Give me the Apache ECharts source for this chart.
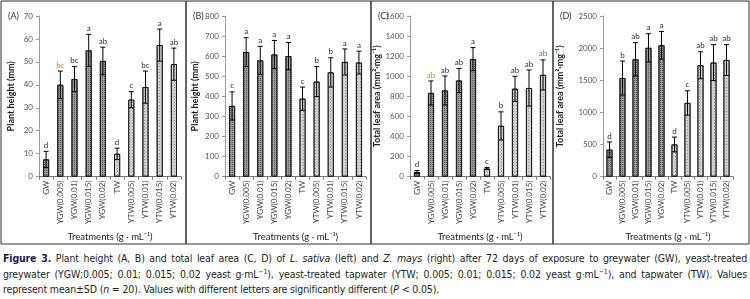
<!DOCTYPE html>
<html>
<head>
<meta charset="utf-8">
<script src="https://cdn.jsdelivr.net/npm/echarts@6/dist/echarts.min.js"></script>
<style>
  body { margin: 0; background: #fff; }
  #wrap { position: relative; width: 750px; height: 299px; overflow: hidden; }
  #chart { position: absolute; left: 0; top: 0; width: 750px; height: 247px; }
  #caption {
    position: absolute; left: 3px; top: 251px; width: 744px;
    font-family: "DejaVu Sans Condensed", "Liberation Sans", sans-serif;
    font-size: 10.5px; line-height: 15.5px; color: #231f20; letter-spacing: -0.15px;
  }
  #caption span { display: block; text-align: justify; text-align-last: justify; white-space: nowrap; }
  #caption span.last { text-align-last: left; }
  #caption b { color: #1d1d4b; }
  #caption sup { font-size: 7px; line-height: 0; }
</style>
</head>
<body>
<div id="wrap">
  <div id="chart"></div>
  <div id="caption">
    <span><b>Figure 3.</b> Plant height (A, B) and total leaf area (C, D) of <i>L. sativa</i> (left) and <i>Z. mays</i> (right) after 72 days of exposure to greywater (GW), yeast-treated</span>
    <span>greywater (YGW;0.005; 0.01; 0.015; 0.02 yeast g·mL<sup>−1</sup>), yeast-treated tapwater (YTW; 0.005; 0.01; 0.015; 0.02 yeast g·mL<sup>−1</sup>), and tapwater (TW). Values</span>
    <span class="last">represent mean±SD (<i>n</i> = 20). Values with different letters are significantly different (<i>P</i> &lt; 0.05).</span>
  </div>
</div>
<script>
  // treatments on the x axis
  const categories = ['GW', 'YGW(0.005)', 'YGW(0.01)', 'YGW(0.015)', 'YGW(0.02)',
    'TW', 'YTW(0.005)', 'YTW(0.01)', 'YTW(0.015)', 'YTW(0.02)'];

  // (A) plant height, L. sativa
  const heightA = [7.5, 40, 42.5, 55, 50.4, 9.9, 33.5, 39, 57.3, 49];
  const errA = [3.5, 6, 5.5, 7, 6, 2.5, 3.5, 7, 7, 7];
  const lettersA = ['d', 'bc', 'bc', 'a', 'ab', 'd', 'c', 'bc', 'a', 'ab'];

  // (B) plant height, Z. mays
  const heightB = [352, 620, 579, 608, 600, 388, 473, 519, 571, 568];
  const errB = [70, 72, 70, 70, 68, 58, 75, 73, 65, 57];
  const lettersB = ['c', 'a', 'a', 'a', 'a', 'c', 'b', 'b', 'a', 'a'];

  // (C) total leaf area, L. sativa
  const areaC = [45, 833, 858, 957, 1170, 80, 505, 875, 882, 1013];
  const errC = [15, 120, 145, 120, 115, 10, 140, 125, 180, 150];
  const lettersC = ['d', 'ab', 'ab', 'ab', 'a', 'c', 'b', 'ab', 'ab', 'ab'];

  // (D) total leaf area, Z. mays
  const areaD = [419, 1534, 1825, 2004, 2045, 500, 1146, 1733, 1775, 1815];
  const errD = [120, 265, 260, 220, 215, 115, 190, 210, 280, 240];
  const lettersD = ['d', 'b', 'ab', 'a', 'a', 'd', 'c', 'ab', 'ab', 'ab'];

  const panels = [
    { tag: '(A)', values: heightA, err: errA, letters: lettersA, max: 70, interval: 10,
      name: 'Plant height (mm)', left: 39, width: 142, gap: 23, letterColor: { 1: '#c8843c' } },
    { tag: '(B)', values: heightB, err: errB, letters: lettersB, max: 800, interval: 100,
      name: 'Plant height (mm)', left: 225, width: 141, gap: 25, letterColor: {} },
    { tag: '(C)', values: areaC, err: errC, letters: lettersC, max: 1600, interval: 200,
      name: 'Total leaf area (mm²·mg⁻¹)', left: 410, width: 140, gap: 26, letterColor: { 1: '#c8843c', 9: '#3d7fc6' } },
    { tag: '(D)', values: areaD, err: errD, letters: lettersD, max: 2500, interval: 500,
      name: 'Total leaf area (mm²·mg⁻¹)', left: 603, width: 130, gap: 38, letterColor: {} }
  ];

  const font = 'Lato, "Open Sans", sans-serif';
  const darkBar = {
    color: '#9a9a9a', borderColor: '#111', borderWidth: 0.8,
    decal: { symbol: 'rect', symbolSize: 1, dashArrayX: [1, 1], dashArrayY: [1, 1], color: 'rgba(40,40,40,0.55)' }
  };
  const lightBar = {
    color: '#d0d0d0', borderColor: '#111', borderWidth: 0.8,
    decal: { symbol: 'rect', symbolSize: 1, dashArrayX: [1, 2], dashArrayY: [1, 2], color: 'rgba(90,90,90,0.5)' }
  };

  const chart = echarts.init(document.getElementById('chart'));
  const grid = [], xAxis = [], yAxis = [], series = [], graphic = [];
  const borders = [[1, 186], [186, 371], [371, 553], [553, 749]];

  panels.forEach((p, i) => {
    grid.push({ left: p.left, width: p.width, top: 16, height: 163 });
    xAxis.push({
      type: 'category', gridIndex: i, data: categories,
      name: 'Treatments (g · mL⁻¹)', nameLocation: 'middle', nameGap: 52,
      nameTextStyle: { fontFamily: font, fontSize: 9.5, color: '#222' },
      axisLine: { lineStyle: { color: '#777', width: 1 } },
      axisTick: { show: true, length: 3, lineStyle: { color: '#777' } },
      axisLabel: { rotate: 90, fontFamily: font, fontSize: 8, color: '#444', margin: 4 }
    });
    yAxis.push({
      type: 'value', gridIndex: i, min: 0, max: p.max, interval: p.interval,
      name: p.name, nameLocation: 'middle', nameGap: p.gap,
      nameTextStyle: { fontFamily: font, fontSize: 9, fontWeight: 'bold', color: '#222' },
      axisLine: { show: true, lineStyle: { color: '#999', width: 1 } },
      axisTick: { show: true, length: 3, lineStyle: { color: '#999' } },
      splitLine: { show: false },
      axisLabel: { fontFamily: font, fontSize: 8, color: '#555', margin: 6, formatter: v => String(v) }
    });
    series.push({
      type: 'bar', xAxisIndex: i, yAxisIndex: i, barWidth: 6,
      data: p.values.map((v, k) => ({ value: v, itemStyle: k < 5 ? darkBar : lightBar }))
    });
    series.push({
      type: 'custom', xAxisIndex: i, yAxisIndex: i, z: 5,
      data: p.values.map((v, k) => [k, v, p.err[k]]),
      renderItem: (params, api) => {
        const k = api.value(0), m = api.value(1), e = api.value(2);
        const hi = api.coord([k, m + e]);
        const lo = api.coord([k, Math.max(m - e, 0)]);
        const w = 2.5;
        const st = { stroke: '#000', lineWidth: 1 };
        return {
          type: 'group',
          children: [
            { type: 'line', shape: { x1: hi[0], y1: hi[1], x2: lo[0], y2: lo[1] }, style: st },
            { type: 'line', shape: { x1: hi[0] - w, y1: hi[1], x2: hi[0] + w, y2: hi[1] }, style: st },
            { type: 'line', shape: { x1: lo[0] - w, y1: lo[1], x2: lo[0] + w, y2: lo[1] }, style: st },
            { type: 'text', x: hi[0], y: hi[1] - 2,
              style: { text: p.letters[k], fontFamily: font, fontSize: 8,
                fill: p.letterColor[k] || '#2b2b3b', align: 'center', verticalAlign: 'bottom' } }
          ]
        };
      }
    });
    graphic.push({
      type: 'rect', shape: { x: borders[i][0], y: 1, width: borders[i][1] - borders[i][0], height: 243 },
      style: { fill: 'none', stroke: '#333', lineWidth: 1 }, silent: true
    });
    graphic.push({
      type: 'text', x: borders[i][0] + 7, y: 16,
      style: { text: p.tag, fontFamily: font, fontSize: 9, fill: '#333', verticalAlign: 'middle' }
    });
  });

  chart.setOption({
    animation: false,
    grid: grid, xAxis: xAxis, yAxis: yAxis, series: series, graphic: graphic
  });
</script>
</body>
</html>
